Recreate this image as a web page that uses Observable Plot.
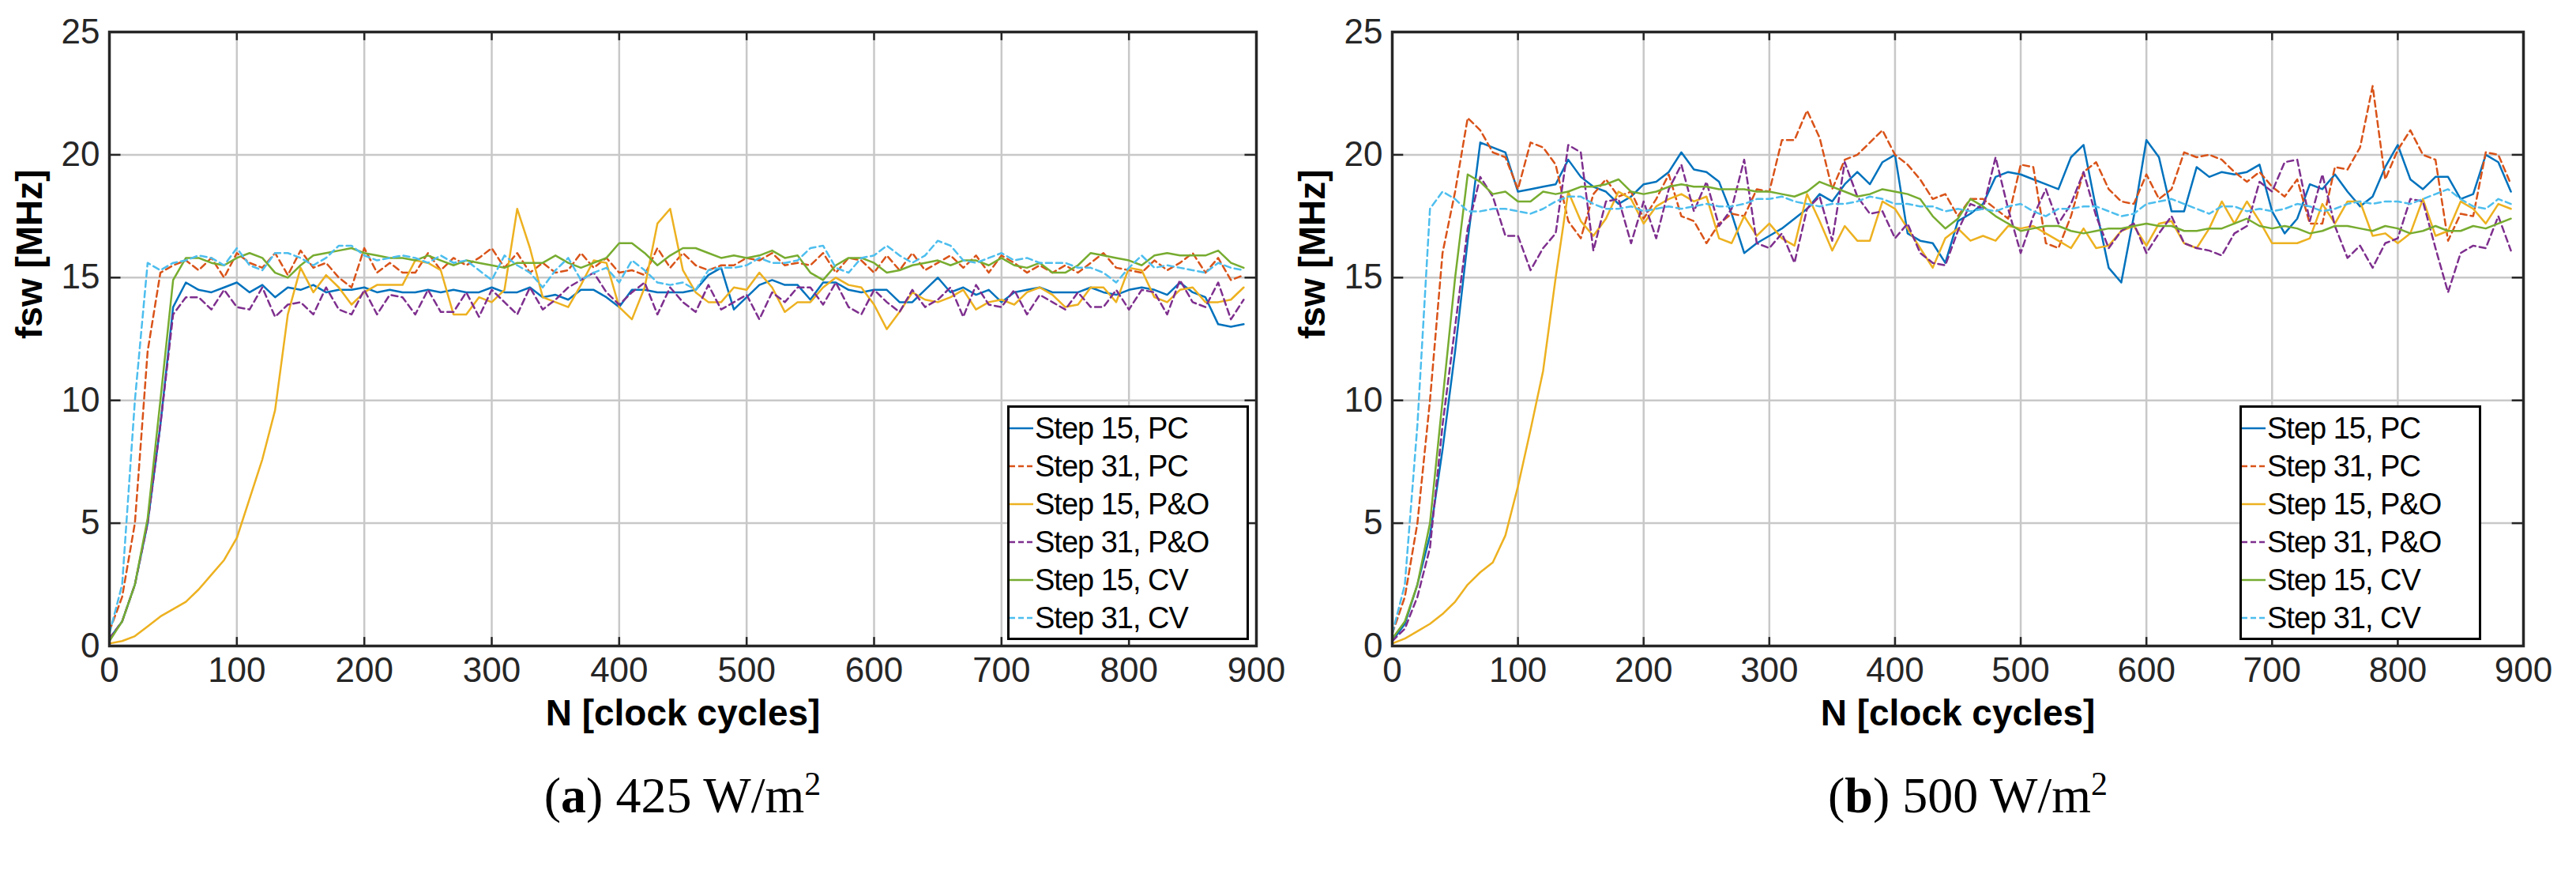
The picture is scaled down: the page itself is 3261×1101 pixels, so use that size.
<!DOCTYPE html>
<html><head><meta charset="utf-8">
<script src="https://cdn.jsdelivr.net/npm/d3@7"></script>
<script src="https://cdn.jsdelivr.net/npm/@observablehq/plot@0.6"></script>
<style>
body{margin:0;background:#fff;width:3261px;height:1101px;overflow:hidden}
#wrap{display:flex;position:relative}
.panel{position:relative;width:1630px}
.cap{font-family:"Liberation Serif","DejaVu Serif",serif;font-size:64px;text-align:center;margin-top:8px}
.legend{position:absolute;border:3px solid #000;background:#fff;font-family:"Liberation Sans",Arial,sans-serif;font-size:38px;padding:2px 4px 2px 0;box-sizing:border-box;letter-spacing:-1px}
.legend .row{display:flex;align-items:center;height:48px;white-space:nowrap}
.legend svg{margin-right:2px}
</style></head><body><div id="wrap"></div>
<script>
const seriesNames=["Step 15, PC","Step 31, PC","Step 15, P&O","Step 31, P&O","Step 15, CV","Step 31, CV"];
const colors=["#0072BD","#D95319","#EDB120","#7E2F8E","#77AC30","#4DBEEE"];
const dashed=[false,true,false,true,false,true];
const xTicks=[0,100,200,300,400,500,600,700,800,900];
const yTicks=[0,5,10,15,20,25];
const captions=[["a","425"],["b","500"]];

const a_s15pc=[0.3,1,2.5,5,9,13.8,14.8,14.5,14.4,14.6,14.8,14.4,14.7,14.2,14.6,14.5,14.7,14.4,14.5,14.5,14.6,14.4,14.5,14.4,14.4,14.5,14.4,14.5,14.4,14.4,14.6,14.4,14.4,14.6,14.2,14.3,14.1,14.5,14.5,14.2,13.8,14.5,14.5,14.4,14.4,14.4,14.5,15.1,15.4,13.7,14.2,14.7,14.9,14.7,14.7,14.1,14.8,14.8,14.5,14.4,14.5,14.5,14.0,14.0,14.5,15.0,14.4,14.6,14.3,14.5,14.0,14.4,14.5,14.6,14.4,14.4,14.4,14.6,14.4,14.3,14.5,14.6,14.5,14.3,14.8,14.4,14.2,13.1,13.0,13.1];
const a_s31pc=[0.6,2,5,12,15.2,15.5,15.7,15.3,15.8,15.0,16.0,15.6,15.4,16.0,15.1,16.1,15.4,15.6,15.0,14.6,16.2,15.2,15.6,15.2,15.2,16.0,15.3,15.8,15.5,15.8,16.2,15.4,16.0,15.2,15.6,15.2,15.3,16.0,15.4,15.8,15.2,15.3,15.1,16.2,15.4,16.0,15.5,15.3,15.5,15.5,15.8,15.7,16.0,15.5,15.6,15.5,16.0,15.2,15.8,15.7,15.2,15.9,15.3,16.0,15.3,15.6,15.9,15.4,15.9,15.2,15.9,15.6,15.2,15.5,15.2,15.5,15.2,15.6,16.0,15.4,15.3,15.2,15.7,15.3,15.6,16.0,15.2,15.8,14.9,15.1];
const a_s15po=[0.1,0.2,0.4,0.8,1.2,1.5,1.8,2.3,2.9,3.5,4.4,6,7.6,9.6,13.5,15.4,14.4,15.1,14.6,13.9,14.4,14.7,14.7,14.7,15.7,15.6,15.3,13.5,13.5,14.2,14.0,14.5,17.8,16.2,14.2,14.0,13.8,14.7,15.7,15.6,13.8,13.3,14.6,17.2,17.8,15.3,14.4,14.0,14.0,14.6,14.5,15.2,14.6,13.6,14.0,14.0,14.6,15.0,14.7,14.6,13.9,12.9,13.6,14.4,14.1,14.0,14.2,14.5,13.7,14.0,14.1,13.9,14.4,14.6,14.3,13.8,13.9,14.6,14.6,14.0,15.4,15.3,14.2,14.0,14.5,14.6,14.0,14.0,14.1,14.6];
const a_s31po=[0.3,1,2.5,5,9,13.5,14.2,14.2,13.7,14.5,13.8,13.7,14.6,13.4,13.9,14.0,13.5,14.6,13.7,13.5,14.5,13.5,14.3,14.2,13.5,14.5,13.6,13.6,14.4,13.4,14.5,14.0,13.5,14.6,13.7,14.1,14.6,14.9,15.2,14.4,13.9,14.4,14.8,13.5,14.6,14.0,13.6,14.7,13.7,14.0,14.3,13.3,14.4,14.0,14.6,14.6,13.9,14.8,13.8,13.5,14.5,14.0,13.6,14.5,13.8,14.1,14.6,13.4,14.7,13.9,13.8,14.5,13.5,14.3,14.0,13.7,14.4,13.8,13.8,14.5,13.7,14.5,14.4,13.5,14.9,14.0,13.8,14.8,13.3,14.1];
const a_s15cv=[0.2,1,2.5,5.2,10,14.9,15.8,15.8,15.6,15.5,15.8,16.0,15.8,15.2,15.0,15.5,15.9,16.0,16.1,16.2,16.0,15.9,15.8,15.8,15.7,15.9,15.7,15.5,15.7,15.6,15.5,15.4,15.6,15.6,15.6,15.9,15.6,15.4,15.6,15.8,16.4,16.4,16.0,15.5,15.9,16.2,16.2,16.0,15.8,15.9,15.8,15.9,16.1,15.8,15.9,15.2,14.9,15.5,15.8,15.8,15.6,15.2,15.3,15.5,15.6,15.7,15.5,15.7,15.7,15.5,15.8,15.5,15.4,15.6,15.2,15.2,15.5,16.0,15.9,15.8,15.7,15.5,15.9,16.0,15.9,15.9,15.9,16.1,15.6,15.4];
const a_s31cv=[0.5,2.5,10,15.6,15.3,15.6,15.7,15.9,15.8,15.5,16.2,15.5,15.3,16.0,16.0,15.8,15.5,15.8,16.3,16.3,15.9,15.7,15.8,15.9,15.8,15.6,15.9,15.6,15.7,15.3,14.9,15.9,15.5,15.2,14.6,15.3,15.8,14.9,15.2,15.4,14.8,15.7,15.3,14.8,14.7,14.8,14.5,15.3,15.4,15.4,15.5,15.8,15.6,15.6,15.7,16.2,16.3,15.4,15.2,15.8,15.9,16.3,15.9,15.6,15.9,16.5,16.3,15.7,15.6,15.8,16.0,15.7,15.8,15.6,15.6,15.6,15.4,15.4,15.2,14.8,15.4,15.9,15.4,15.5,15.4,15.3,15.2,15.6,15.4,15.3];

const b_s15pc=[0.2,0.9,2.5,4.5,8,12,16.5,20.5,20.3,20.1,18.5,18.6,18.7,18.8,19.8,19.1,18.7,18.5,18.0,18.3,18.8,18.9,19.3,20.1,19.4,19.3,18.9,17.6,16.0,16.4,16.7,17.0,17.4,17.8,18.4,18.1,18.8,19.3,18.8,19.7,20.0,16.8,16.5,16.4,15.6,17.3,17.6,18.0,19.1,19.3,19.2,19.0,18.8,18.6,19.9,20.4,17.8,15.4,14.8,17.5,20.6,19.9,17.7,17.7,19.5,19.1,19.3,19.2,19.3,19.6,17.7,16.8,17.4,18.8,18.6,19.2,18.5,17.9,18.3,19.5,20.4,19.0,18.6,19.1,19.1,18.2,18.4,20.0,19.7,18.5];
const b_s31pc=[0.5,2,5,10,16,18.5,21.5,21.0,20.1,19.9,18.6,20.5,20.3,19.6,17.3,16.6,18.4,19.0,18.3,18.5,17.4,18.2,19.2,17.5,17.3,16.4,17.2,17.6,17.5,18.6,18.5,20.6,20.6,21.8,20.7,18.6,19.8,20.0,20.5,21.0,20.0,19.6,19.0,18.2,18.4,17.5,18.2,18.2,17.8,17.4,19.6,19.5,16.4,16.2,17.5,19.3,19.7,18.6,18.1,18.0,19.2,18.2,18.6,20.1,19.9,20.0,19.8,19.3,18.9,19.3,18.7,18.3,19.0,17.2,17.2,19.5,19.4,20.3,22.8,19.0,20.2,21.0,20.0,19.8,16.5,17.6,17.5,20.1,20.0,18.8];
const b_s15po=[0.1,0.3,0.6,0.9,1.3,1.8,2.5,3.0,3.4,4.5,6.5,8.8,11.2,15,18.5,17.3,16.7,17.4,18.5,18.2,17.2,17.9,18.2,18.4,18.1,18.3,16.6,16.4,17.5,16.7,17.2,16.6,16.3,18.4,17.3,16.1,17.1,16.5,16.5,18.1,17.8,17.0,16.2,15.4,16.6,17.0,16.5,16.7,16.5,17.1,17.0,17.1,16.8,16.5,16.2,17.0,16.2,16.3,16.9,17.1,16.3,17.2,17.3,16.4,16.2,17.0,18.1,17.2,18.1,17.3,16.4,16.4,16.4,16.6,18.0,17.2,18.1,18.1,16.7,16.8,16.4,16.8,18.2,16.7,16.9,18.1,17.8,17.2,18.0,17.8];
const b_s31po=[0.2,0.7,2,4,9,13,17,19.1,18.3,16.7,16.7,15.3,16.2,16.8,20.4,20.1,16.1,18.1,18.2,16.4,18.1,16.6,18.6,19.6,17.7,18.9,17.1,17.8,19.8,16.4,16.2,16.8,15.6,17.8,18.3,16.5,19.7,18.3,17.6,17.7,16.6,17.2,16.0,15.6,15.5,16.9,18.0,17.8,19.9,17.8,16.0,17.5,18.6,17.2,18.0,19.3,17.5,16.2,16.9,17.2,16.0,16.8,17.5,16.4,16.2,16.1,15.9,16.8,17.1,18.9,18.5,19.7,19.8,17.3,19.2,17.1,15.8,16.3,15.4,16.4,16.6,18.2,18.1,16.2,14.4,16.0,16.3,16.2,17.5,16.1];
const b_s15cv=[0.3,1,2.5,5,10,15,19.2,18.9,18.4,18.5,18.1,18.1,18.5,18.4,18.5,18.7,18.7,18.8,19.0,18.5,18.4,18.5,18.7,18.8,18.7,18.7,18.6,18.6,18.6,18.5,18.5,18.4,18.3,18.5,18.9,18.7,18.5,18.3,18.4,18.6,18.5,18.4,18.2,17.5,17.0,17.4,18.2,17.9,17.5,17.2,16.9,17.0,17.1,17.1,16.9,16.8,16.9,17.0,17.0,17.1,17.2,17.1,17.1,16.9,16.9,17.0,17.0,17.2,17.4,17.1,17.0,17.1,17.0,16.8,16.9,17.1,17.1,17.0,16.9,17.1,17.0,16.8,16.9,17.1,16.9,16.9,17.1,17.0,17.2,17.4];
const b_s31cv=[0.5,2.5,9,17.8,18.5,18.2,17.7,17.7,17.8,17.8,17.7,17.6,17.8,18.1,18.3,18.3,18.0,17.8,17.8,17.9,17.7,17.8,17.9,17.8,17.9,18.0,17.9,17.9,18.0,18.2,18.2,18.3,18.1,18.0,17.9,18.0,18.0,18.1,18.3,18.2,18.0,18.0,17.9,17.9,17.7,17.8,17.7,17.8,17.7,17.9,18.0,17.7,17.5,17.8,17.8,17.9,17.9,17.7,17.5,17.6,18.0,18.1,18.2,18.0,17.8,17.6,17.9,17.9,17.7,17.8,17.7,17.8,18.0,17.9,17.7,17.8,18.0,18.1,18.0,18.1,18.1,18.0,18.2,18.4,18.6,18.2,17.9,17.8,18.2,18.0];

const panels=[[a_s15pc,a_s31pc,a_s15po,a_s31po,a_s15cv,a_s31cv],[b_s15pc,b_s31pc,b_s15po,b_s31po,b_s15cv,b_s31cv]];
const geom=[{ml:138,mr:40,legLeft:1275},{ml:132,mr:66,legLeft:1205}];
const wrap=document.getElementById("wrap");
panels.forEach((ser,p)=>{
  const rows=[];
  ser.forEach((arr,s)=>arr.forEach((v,i)=>rows.push({x:i*10,y:v,s})));
  const g=geom[p];
  const W=1630,H=960;
  const plot=Plot.plot({
    width:W,height:H,marginTop:40,marginBottom:143,marginLeft:g.ml,marginRight:g.mr,
    style:{fontFamily:"'Liberation Sans',Arial,sans-serif",fontSize:"44px",color:"#262626",background:"#fff"},
    x:{domain:[0,900],ticks:xTicks,tickSize:0,tickPadding:14,label:null},
    y:{domain:[0,25],ticks:yTicks,tickSize:0,tickPadding:12,label:null},
    marks:[
      Plot.ruleX(xTicks,{x:d=>d,stroke:"#c8c8c8",strokeWidth:2.5}),
      Plot.ruleY(yTicks,{y:d=>d,stroke:"#c8c8c8",strokeWidth:2.5}),
      ...ser.map((arr,s)=>Plot.line(rows.filter(r=>r.s===s),{x:"x",y:"y",stroke:colors[s],strokeWidth:2.5,strokeDasharray:dashed[s]?"8,5":null})),
      Plot.axisX({ticks:xTicks,tickSize:0,tickPadding:14,label:null,fontSize:44}),
      Plot.axisY({ticks:yTicks,tickSize:0,tickPadding:12,label:null,fontSize:44}),
      Plot.ruleX(xTicks,{x:d=>d,y1:0,y2:0.35,stroke:"#262626",strokeWidth:2.5}),
      Plot.ruleX(xTicks,{x:d=>d,y1:24.65,y2:25,stroke:"#262626",strokeWidth:2.5}),
      Plot.ruleY(yTicks,{y:d=>d,x1:0,x2:9,stroke:"#262626",strokeWidth:2.5}),
      Plot.ruleY(yTicks,{y:d=>d,x1:891,x2:900,stroke:"#262626",strokeWidth:2.5}),
      Plot.frame({stroke:"#262626",strokeWidth:3.5}),
      Plot.text(["N [clock cycles]"],{frameAnchor:"bottom",dy:100,fontWeight:"bold",fontSize:46,fill:"#000",textAnchor:"middle"}),
      Plot.text(["fsw [MHz]"],{frameAnchor:"left",dx:-100,rotate:-90,fontWeight:"bold",fontSize:46,fill:"#000"})
    ]
  });
  const div=document.createElement("div");div.className="panel";
  div.appendChild(plot);
  const leg=document.createElement("div");leg.className="legend";
  leg.style.left=g.legLeft+"px";leg.style.top="513px";leg.style.width="306px";leg.style.height="297px";
  seriesNames.forEach((n,s)=>{
    const r=document.createElement("div");r.className="row";
    r.innerHTML=`<svg width="30" height="10"><line x1="0" y1="5" x2="30" y2="5" stroke="${colors[s]}" stroke-width="2.5" ${dashed[s]?'stroke-dasharray="7,4"':''}/></svg><span></span>`;
    r.querySelector("span").textContent=n;leg.appendChild(r);
  });
  div.appendChild(leg);
  const cap=document.createElement("div");cap.className="cap";
  cap.style.marginLeft=(g.ml-40)+"px";
  cap.innerHTML=`(<b>${captions[p][0]}</b>) ${captions[p][1]} W/m<sup style="font-size:42px">2</sup>`;
  div.appendChild(cap);
  wrap.appendChild(div);
});
</script></body></html>
